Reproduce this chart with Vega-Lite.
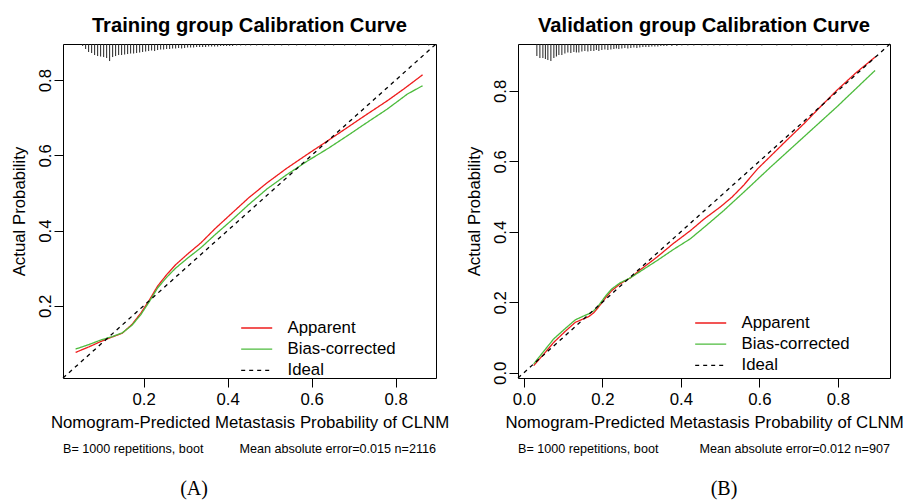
{
  "$schema": "https://vega.github.io/schema/vega-lite/v6.json",
  "background": "white",
  "padding": {"left": 10, "top": 15, "right": 0, "bottom": 0},
  "spacing": 82,
  "bounds": "flush",
  "config": {
    "view": {"stroke": "#000", "strokeWidth": 1},
    "title": {"font": "Liberation Sans", "fontSize": 20.2, "fontWeight": "bold", "anchor": "middle", "offset": 5, "color": "#000"},
    "axis": {"labelFont": "Liberation Sans", "labelFontSize": 16.8, "labelColor": "#000", "titleFont": "Liberation Sans", "titleFontSize": 16.8, "titleFontWeight": "normal", "titleColor": "#000", "tickColor": "#000", "tickSize": 9, "tickWidth": 1, "grid": false, "domain": false, "labelOverlap": false, "labelFlush": false},
    "axisX": {"labelPadding": 4, "titlePadding": 7},
    "axisY": {"labelAngle": -90, "labelAlign": "center", "labelBaseline": "middle", "labelPadding": 8.5, "titlePadding": 9.5},
    "legend": {"labelFont": "Liberation Sans", "labelFontSize": 16.8, "labelColor": "#000", "symbolType": "M-3,0H3", "symbolSize": 107, "symbolStrokeWidth": 1.3, "labelOffset": 22.4, "rowPadding": 3.2, "padding": 0, "offset": 0}
  },
  "datasets": {
    "trainCurves": [
      {"series": "Apparent", "x": 0.038, "y": 0.076}, {"series": "Apparent", "x": 0.07, "y": 0.091}, {"series": "Apparent", "x": 0.098, "y": 0.105}, {"series": "Apparent", "x": 0.125, "y": 0.117}, {"series": "Apparent", "x": 0.149, "y": 0.127}, {"series": "Apparent", "x": 0.172, "y": 0.150}, {"series": "Apparent", "x": 0.193, "y": 0.180}, {"series": "Apparent", "x": 0.213, "y": 0.214}, {"series": "Apparent", "x": 0.233, "y": 0.252}, {"series": "Apparent", "x": 0.255, "y": 0.283}, {"series": "Apparent", "x": 0.276, "y": 0.309}, {"series": "Apparent", "x": 0.305, "y": 0.338}, {"series": "Apparent", "x": 0.336, "y": 0.367}, {"series": "Apparent", "x": 0.37, "y": 0.405}, {"series": "Apparent", "x": 0.407, "y": 0.443}, {"series": "Apparent", "x": 0.45, "y": 0.487}, {"series": "Apparent", "x": 0.494, "y": 0.527}, {"series": "Apparent", "x": 0.54, "y": 0.565}, {"series": "Apparent", "x": 0.59, "y": 0.603}, {"series": "Apparent", "x": 0.64, "y": 0.640}, {"series": "Apparent", "x": 0.685, "y": 0.674}, {"series": "Apparent", "x": 0.73, "y": 0.708}, {"series": "Apparent", "x": 0.78, "y": 0.745}, {"series": "Apparent", "x": 0.82, "y": 0.777}, {"series": "Apparent", "x": 0.864, "y": 0.814},
      {"series": "Bias-corrected", "x": 0.038, "y": 0.085}, {"series": "Bias-corrected", "x": 0.07, "y": 0.097}, {"series": "Bias-corrected", "x": 0.098, "y": 0.109}, {"series": "Bias-corrected", "x": 0.125, "y": 0.118}, {"series": "Bias-corrected", "x": 0.149, "y": 0.128}, {"series": "Bias-corrected", "x": 0.172, "y": 0.148}, {"series": "Bias-corrected", "x": 0.193, "y": 0.176}, {"series": "Bias-corrected", "x": 0.213, "y": 0.210}, {"series": "Bias-corrected", "x": 0.233, "y": 0.247}, {"series": "Bias-corrected", "x": 0.255, "y": 0.276}, {"series": "Bias-corrected", "x": 0.276, "y": 0.300}, {"series": "Bias-corrected", "x": 0.305, "y": 0.327}, {"series": "Bias-corrected", "x": 0.336, "y": 0.354}, {"series": "Bias-corrected", "x": 0.37, "y": 0.389}, {"series": "Bias-corrected", "x": 0.407, "y": 0.425}, {"series": "Bias-corrected", "x": 0.45, "y": 0.469}, {"series": "Bias-corrected", "x": 0.494, "y": 0.511}, {"series": "Bias-corrected", "x": 0.54, "y": 0.548}, {"series": "Bias-corrected", "x": 0.59, "y": 0.585}, {"series": "Bias-corrected", "x": 0.64, "y": 0.619}, {"series": "Bias-corrected", "x": 0.685, "y": 0.652}, {"series": "Bias-corrected", "x": 0.73, "y": 0.686}, {"series": "Bias-corrected", "x": 0.78, "y": 0.723}, {"series": "Bias-corrected", "x": 0.828, "y": 0.763}, {"series": "Bias-corrected", "x": 0.864, "y": 0.785},
      {"series": "Ideal", "x": 0.008, "y": 0.008}, {"series": "Ideal", "x": 0.896, "y": 0.896}
    ],
    "validCurves": [
      {"series": "Apparent", "x": 0.025, "y": 0.020}, {"series": "Apparent", "x": 0.05, "y": 0.052}, {"series": "Apparent", "x": 0.076, "y": 0.086}, {"series": "Apparent", "x": 0.105, "y": 0.117}, {"series": "Apparent", "x": 0.131, "y": 0.143}, {"series": "Apparent", "x": 0.15, "y": 0.152}, {"series": "Apparent", "x": 0.165, "y": 0.159}, {"series": "Apparent", "x": 0.178, "y": 0.170}, {"series": "Apparent", "x": 0.19, "y": 0.186}, {"series": "Apparent", "x": 0.207, "y": 0.211}, {"series": "Apparent", "x": 0.224, "y": 0.233}, {"series": "Apparent", "x": 0.245, "y": 0.252}, {"series": "Apparent", "x": 0.271, "y": 0.269}, {"series": "Apparent", "x": 0.30, "y": 0.295}, {"series": "Apparent", "x": 0.339, "y": 0.328}, {"series": "Apparent", "x": 0.38, "y": 0.366}, {"series": "Apparent", "x": 0.424, "y": 0.403}, {"series": "Apparent", "x": 0.46, "y": 0.437}, {"series": "Apparent", "x": 0.50, "y": 0.470}, {"series": "Apparent", "x": 0.53, "y": 0.498}, {"series": "Apparent", "x": 0.56, "y": 0.532}, {"series": "Apparent", "x": 0.595, "y": 0.578}, {"series": "Apparent", "x": 0.628, "y": 0.614}, {"series": "Apparent", "x": 0.67, "y": 0.660}, {"series": "Apparent", "x": 0.713, "y": 0.706}, {"series": "Apparent", "x": 0.755, "y": 0.754}, {"series": "Apparent", "x": 0.797, "y": 0.801}, {"series": "Apparent", "x": 0.845, "y": 0.850}, {"series": "Apparent", "x": 0.895, "y": 0.896},
      {"series": "Bias-corrected", "x": 0.025, "y": 0.025}, {"series": "Bias-corrected", "x": 0.05, "y": 0.060}, {"series": "Bias-corrected", "x": 0.076, "y": 0.096}, {"series": "Bias-corrected", "x": 0.105, "y": 0.125}, {"series": "Bias-corrected", "x": 0.131, "y": 0.150}, {"series": "Bias-corrected", "x": 0.15, "y": 0.160}, {"series": "Bias-corrected", "x": 0.165, "y": 0.167}, {"series": "Bias-corrected", "x": 0.178, "y": 0.176}, {"series": "Bias-corrected", "x": 0.19, "y": 0.190}, {"series": "Bias-corrected", "x": 0.207, "y": 0.216}, {"series": "Bias-corrected", "x": 0.224, "y": 0.238}, {"series": "Bias-corrected", "x": 0.245, "y": 0.255}, {"series": "Bias-corrected", "x": 0.271, "y": 0.269}, {"series": "Bias-corrected", "x": 0.30, "y": 0.290}, {"series": "Bias-corrected", "x": 0.339, "y": 0.318}, {"series": "Bias-corrected", "x": 0.38, "y": 0.349}, {"series": "Bias-corrected", "x": 0.424, "y": 0.380}, {"series": "Bias-corrected", "x": 0.465, "y": 0.418}, {"series": "Bias-corrected", "x": 0.509, "y": 0.460}, {"series": "Bias-corrected", "x": 0.56, "y": 0.512}, {"series": "Bias-corrected", "x": 0.628, "y": 0.583}, {"series": "Bias-corrected", "x": 0.713, "y": 0.669}, {"series": "Bias-corrected", "x": 0.797, "y": 0.754}, {"series": "Bias-corrected", "x": 0.895, "y": 0.858},
      {"series": "Ideal", "x": -0.015, "y": -0.015}, {"series": "Ideal", "x": 0.933, "y": 0.933}
    ],
    "trainRug": [
      {"x": 0.0548, "y_end": 0.8907}, {"x": 0.0619, "y_end": 0.8827}, {"x": 0.0690, "y_end": 0.8747}, {"x": 0.0762, "y_end": 0.8720}, {"x": 0.0833, "y_end": 0.8667}, {"x": 0.0905, "y_end": 0.8640}, {"x": 0.0976, "y_end": 0.8627}, {"x": 0.1048, "y_end": 0.8613}, {"x": 0.1119, "y_end": 0.8587}, {"x": 0.1190, "y_end": 0.8507}, {"x": 0.1262, "y_end": 0.8613}, {"x": 0.1333, "y_end": 0.8640}, {"x": 0.1405, "y_end": 0.8667}, {"x": 0.1476, "y_end": 0.8667}, {"x": 0.1548, "y_end": 0.8680}, {"x": 0.1619, "y_end": 0.8693}, {"x": 0.1690, "y_end": 0.8707}, {"x": 0.1762, "y_end": 0.8707}, {"x": 0.1833, "y_end": 0.8720}, {"x": 0.1905, "y_end": 0.8733}, {"x": 0.1976, "y_end": 0.8747}, {"x": 0.2048, "y_end": 0.8760}, {"x": 0.2119, "y_end": 0.8773}, {"x": 0.2190, "y_end": 0.8787}, {"x": 0.2262, "y_end": 0.8773}, {"x": 0.2333, "y_end": 0.8800}, {"x": 0.2405, "y_end": 0.8813}, {"x": 0.2476, "y_end": 0.8813}, {"x": 0.2548, "y_end": 0.8827}, {"x": 0.2619, "y_end": 0.8827}, {"x": 0.2690, "y_end": 0.8840}, {"x": 0.2762, "y_end": 0.8840}, {"x": 0.2833, "y_end": 0.8853}, {"x": 0.2905, "y_end": 0.8840}, {"x": 0.2976, "y_end": 0.8853}, {"x": 0.3048, "y_end": 0.8867}, {"x": 0.3119, "y_end": 0.8867}, {"x": 0.3190, "y_end": 0.8867}, {"x": 0.3262, "y_end": 0.8880}, {"x": 0.3333, "y_end": 0.8880}, {"x": 0.3405, "y_end": 0.8880}, {"x": 0.3476, "y_end": 0.8880}, {"x": 0.3548, "y_end": 0.8893}, {"x": 0.3619, "y_end": 0.8893}, {"x": 0.3690, "y_end": 0.8893}, {"x": 0.3762, "y_end": 0.8893}, {"x": 0.3833, "y_end": 0.8907}, {"x": 0.3905, "y_end": 0.8907}, {"x": 0.3976, "y_end": 0.8907}, {"x": 0.4048, "y_end": 0.8907}, {"x": 0.4119, "y_end": 0.8907}, {"x": 0.4214, "y_end": 0.8920}, {"x": 0.4310, "y_end": 0.8920}, {"x": 0.4429, "y_end": 0.8920}, {"x": 0.4548, "y_end": 0.8920}, {"x": 0.4690, "y_end": 0.8920}, {"x": 0.4833, "y_end": 0.8920}, {"x": 0.4976, "y_end": 0.8920}, {"x": 0.5119, "y_end": 0.8920}, {"x": 0.5286, "y_end": 0.8920}, {"x": 0.5452, "y_end": 0.8920}, {"x": 0.5643, "y_end": 0.8920}, {"x": 0.5857, "y_end": 0.8920}, {"x": 0.6095, "y_end": 0.8920}, {"x": 0.6310, "y_end": 0.8920}, {"x": 0.6524, "y_end": 0.8920}, {"x": 0.6786, "y_end": 0.8920}, {"x": 0.7048, "y_end": 0.8920}, {"x": 0.7357, "y_end": 0.8920}, {"x": 0.7643, "y_end": 0.8920}, {"x": 0.7929, "y_end": 0.8920}, {"x": 0.8238, "y_end": 0.8920}, {"x": 0.8548, "y_end": 0.8920}, {"x": 0.8786, "y_end": 0.8920}
    ],
    "validRug": [
      {"x": 0.0331, "y_end": 0.8989}, {"x": 0.0408, "y_end": 0.8932}, {"x": 0.0484, "y_end": 0.8932}, {"x": 0.0548, "y_end": 0.8904}, {"x": 0.0611, "y_end": 0.8875}, {"x": 0.0688, "y_end": 0.8847}, {"x": 0.0764, "y_end": 0.8932}, {"x": 0.0828, "y_end": 0.8975}, {"x": 0.0892, "y_end": 0.9017}, {"x": 0.0968, "y_end": 0.9017}, {"x": 0.1045, "y_end": 0.9060}, {"x": 0.1121, "y_end": 0.9089}, {"x": 0.1197, "y_end": 0.9074}, {"x": 0.1274, "y_end": 0.9103}, {"x": 0.1338, "y_end": 0.9089}, {"x": 0.1401, "y_end": 0.9089}, {"x": 0.1478, "y_end": 0.9117}, {"x": 0.1554, "y_end": 0.9131}, {"x": 0.1631, "y_end": 0.9117}, {"x": 0.1707, "y_end": 0.9131}, {"x": 0.1783, "y_end": 0.9131}, {"x": 0.1847, "y_end": 0.9160}, {"x": 0.1911, "y_end": 0.9131}, {"x": 0.1987, "y_end": 0.9160}, {"x": 0.2064, "y_end": 0.9174}, {"x": 0.2140, "y_end": 0.9160}, {"x": 0.2217, "y_end": 0.9174}, {"x": 0.2293, "y_end": 0.9188}, {"x": 0.2357, "y_end": 0.9202}, {"x": 0.2420, "y_end": 0.9188}, {"x": 0.2497, "y_end": 0.9202}, {"x": 0.2573, "y_end": 0.9216}, {"x": 0.2650, "y_end": 0.9202}, {"x": 0.2726, "y_end": 0.9216}, {"x": 0.2803, "y_end": 0.9231}, {"x": 0.2879, "y_end": 0.9216}, {"x": 0.2955, "y_end": 0.9231}, {"x": 0.3032, "y_end": 0.9245}, {"x": 0.3108, "y_end": 0.9245}, {"x": 0.3185, "y_end": 0.9245}, {"x": 0.3261, "y_end": 0.9259}, {"x": 0.3338, "y_end": 0.9259}, {"x": 0.3414, "y_end": 0.9259}, {"x": 0.3490, "y_end": 0.9273}, {"x": 0.3567, "y_end": 0.9273}, {"x": 0.3643, "y_end": 0.9273}, {"x": 0.3771, "y_end": 0.9273}, {"x": 0.3898, "y_end": 0.9273}, {"x": 0.4025, "y_end": 0.9287}, {"x": 0.4178, "y_end": 0.9287}, {"x": 0.4331, "y_end": 0.9287}, {"x": 0.4535, "y_end": 0.9287}, {"x": 0.4688, "y_end": 0.9287}, {"x": 0.4841, "y_end": 0.9287}, {"x": 0.4994, "y_end": 0.9287}, {"x": 0.5197, "y_end": 0.9287}, {"x": 0.5427, "y_end": 0.9287}, {"x": 0.5682, "y_end": 0.9287}, {"x": 0.6064, "y_end": 0.9287}, {"x": 0.6446, "y_end": 0.9287}, {"x": 0.6828, "y_end": 0.9287}, {"x": 0.7210, "y_end": 0.9287}, {"x": 0.7592, "y_end": 0.9287}, {"x": 0.7975, "y_end": 0.9287}, {"x": 0.8357, "y_end": 0.9287}, {"x": 0.8662, "y_end": 0.9287}, {"x": 0.8994, "y_end": 0.9287}
    ]
  },
  "hconcat": [
    {
      "width": 373,
      "height": 334,
      "title": {"text": "Training group Calibration Curve"},
      "layer": [
        {
          "data": {"name": "trainRug"},
          "mark": {"type": "rule", "color": "#222", "strokeWidth": 1},
          "encoding": {
            "x": {"field": "x", "type": "quantitative", "scale": {"domain": [0.008, 0.896], "nice": false, "zero": false}},
            "y": {"field": "y_end", "type": "quantitative", "scale": {"domain": [0.008, 0.896], "nice": false, "zero": false}},
            "y2": {"datum": 0.896}
          }
        },
        {
          "data": {"name": "trainCurves"},
          "mark": {"type": "line", "strokeWidth": 1.3},
          "encoding": {
            "x": {"field": "x", "type": "quantitative", "scale": {"domain": [0.008, 0.896], "nice": false, "zero": false}, "axis": {"title": "Nomogram-Predicted Metastasis Probability of CLNM", "values": [0.2, 0.4, 0.6, 0.8], "format": ".1f"}},
            "y": {"field": "y", "type": "quantitative", "scale": {"domain": [0.008, 0.896], "nice": false, "zero": false}, "axis": {"title": "Actual Probability", "values": [0.2, 0.4, 0.6, 0.8], "format": ".1f"}},
            "color": {"field": "series", "type": "nominal", "scale": {"domain": ["Apparent", "Bias-corrected", "Ideal"], "range": ["#ee1c1c", "#4cbb3c", "#000000"]}, "legend": {"title": null, "orient": "none", "legendX": 185.3, "legendY": 275.6}},
            "strokeDash": {"field": "series", "type": "nominal", "scale": {"domain": ["Apparent", "Bias-corrected", "Ideal"], "range": [[1, 0], [1, 0], [4, 4]]}, "legend": {"title": null, "orient": "none", "legendX": 185.3, "legendY": 275.6}}
          }
        },
        {
          "data": {"values": [{"note": "B= 1000 repetitions, boot"}]},
          "mark": {"type": "text", "align": "left", "baseline": "middle", "font": "Liberation Sans", "fontSize": 12.6, "color": "#000"},
          "encoding": {"x": {"datum": 0.008}, "y": {"datum": -0.181}, "text": {"field": "note", "type": "nominal"}}
        },
        {
          "data": {"values": [{"note": "Mean absolute error=0.015 n=2116"}]},
          "mark": {"type": "text", "align": "right", "baseline": "middle", "font": "Liberation Sans", "fontSize": 12.6, "color": "#000"},
          "encoding": {"x": {"datum": 0.896}, "y": {"datum": -0.181}, "text": {"field": "note", "type": "nominal"}}
        },
        {
          "data": {"values": [{"note": "(A)"}]},
          "mark": {"type": "text", "align": "center", "baseline": "middle", "font": "Liberation Serif", "fontSize": 20, "color": "#000"},
          "encoding": {"x": {"datum": 0.320}, "y": {"datum": -0.288}, "text": {"field": "note", "type": "nominal"}}
        }
      ]
    },
    {
      "width": 372,
      "height": 334,
      "title": {"text": "Validation group Calibration Curve"},
      "layer": [
        {
          "data": {"name": "validRug"},
          "mark": {"type": "rule", "color": "#222", "strokeWidth": 1},
          "encoding": {
            "x": {"field": "x", "type": "quantitative", "scale": {"domain": [-0.015, 0.933], "nice": false, "zero": false}},
            "y": {"field": "y_end", "type": "quantitative", "scale": {"domain": [-0.015, 0.933], "nice": false, "zero": false}},
            "y2": {"datum": 0.933}
          }
        },
        {
          "data": {"name": "validCurves"},
          "mark": {"type": "line", "strokeWidth": 1.3},
          "encoding": {
            "x": {"field": "x", "type": "quantitative", "scale": {"domain": [-0.015, 0.933], "nice": false, "zero": false}, "axis": {"title": "Nomogram-Predicted Metastasis Probability of CLNM", "values": [0, 0.2, 0.4, 0.6, 0.8], "format": ".1f"}},
            "y": {"field": "y", "type": "quantitative", "scale": {"domain": [-0.015, 0.933], "nice": false, "zero": false}, "axis": {"title": "Actual Probability", "values": [0, 0.2, 0.4, 0.6, 0.8], "format": ".1f"}},
            "color": {"field": "series", "type": "nominal", "scale": {"domain": ["Apparent", "Bias-corrected", "Ideal"], "range": ["#ee1c1c", "#4cbb3c", "#000000"]}, "legend": {"title": null, "orient": "none", "legendX": 184.3, "legendY": 270.6}},
            "strokeDash": {"field": "series", "type": "nominal", "scale": {"domain": ["Apparent", "Bias-corrected", "Ideal"], "range": [[1, 0], [1, 0], [4, 4]]}, "legend": {"title": null, "orient": "none", "legendX": 184.3, "legendY": 270.6}}
          }
        },
        {
          "data": {"values": [{"note": "B= 1000 repetitions, boot"}]},
          "mark": {"type": "text", "align": "left", "baseline": "middle", "font": "Liberation Sans", "fontSize": 12.6, "color": "#000"},
          "encoding": {"x": {"datum": -0.015}, "y": {"datum": -0.216}, "text": {"field": "note", "type": "nominal"}}
        },
        {
          "data": {"values": [{"note": "Mean absolute error=0.012 n=907"}]},
          "mark": {"type": "text", "align": "right", "baseline": "middle", "font": "Liberation Sans", "fontSize": 12.6, "color": "#000"},
          "encoding": {"x": {"datum": 0.933}, "y": {"datum": -0.216}, "text": {"field": "note", "type": "nominal"}}
        },
        {
          "data": {"values": [{"note": "(B)"}]},
          "mark": {"type": "text", "align": "center", "baseline": "middle", "font": "Liberation Serif", "fontSize": 20, "color": "#000"},
          "encoding": {"x": {"datum": 0.510}, "y": {"datum": -0.331}, "text": {"field": "note", "type": "nominal"}}
        }
      ]
    }
  ],
  "resolve": {
    "scale": {"x": "independent", "y": "independent", "color": "independent", "strokeDash": "independent"},
    "axis": {"x": "independent", "y": "independent"},
    "legend": {"color": "independent", "strokeDash": "independent"}
  }
}
